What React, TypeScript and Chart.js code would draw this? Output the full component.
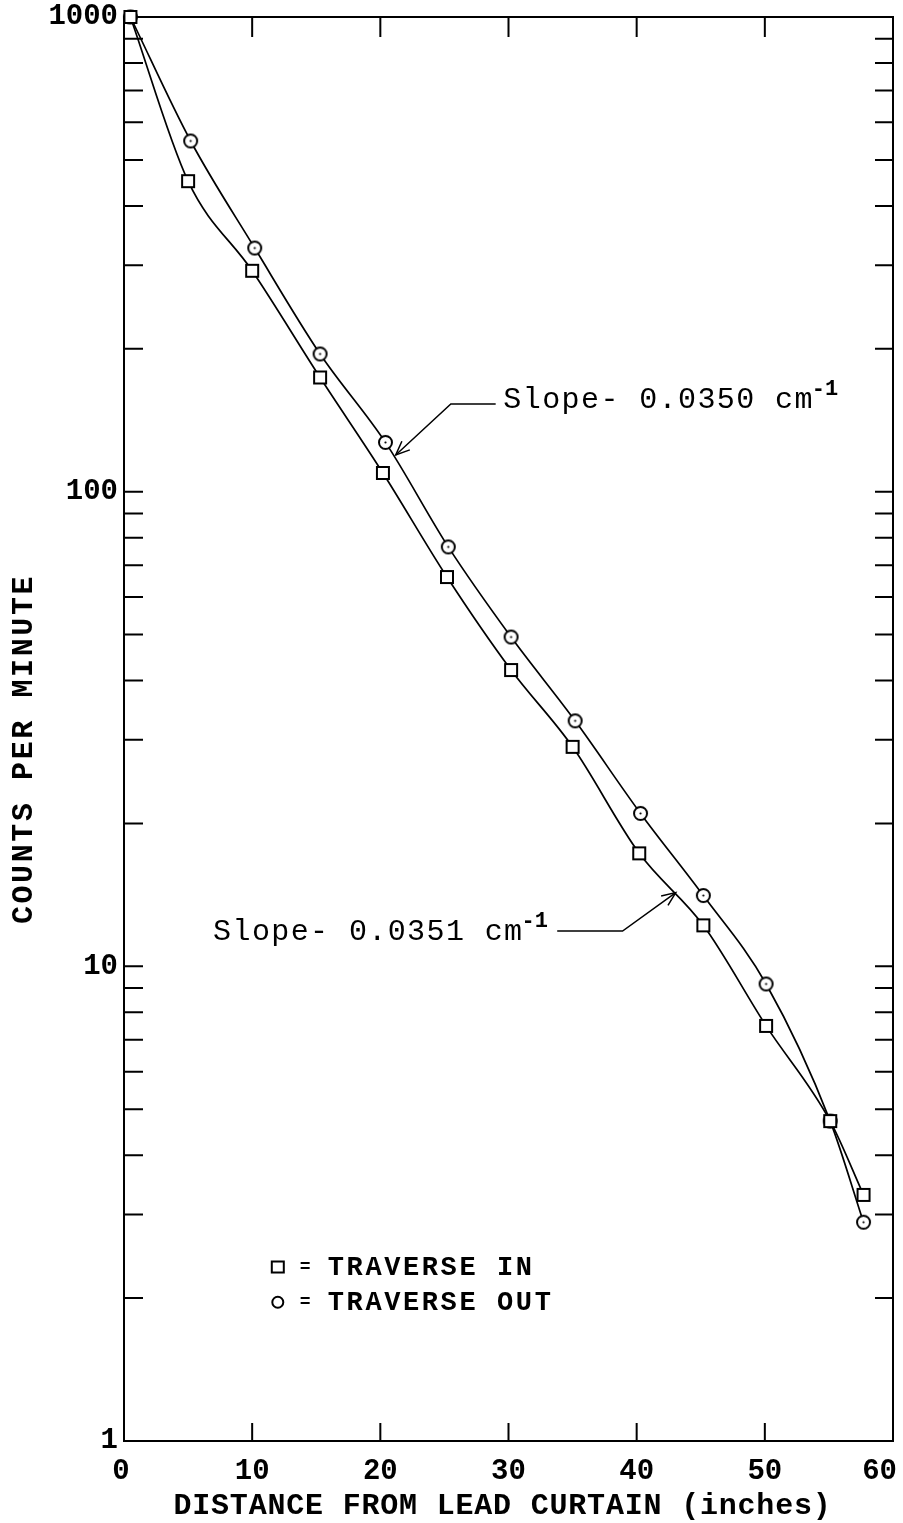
import React, { useEffect, useRef } from "react";
import { Chart, registerables } from "chart.js";
Chart.register(...registerables);

// Traverse In (squares)
const inX = [0.5, 5, 10, 15.3, 20.2, 25.2, 30.2, 35, 40.2, 45.2, 50.1, 55.1, 57.7];
const inY = [1000, 451, 292, 174, 109.5, 66.1, 42.1, 29.0, 17.3, 12.2, 7.49, 4.72, 3.3];
// Traverse Out (circles)
const outX = [0.5, 5.2, 10.2, 15.3, 20.4, 25.3, 30.2, 35.2, 40.3, 45.2, 50.1, 55.1, 57.7];
const outY = [1000, 548, 326, 195, 127, 76.5, 49.4, 32.9, 21.0, 14.1, 9.18, 4.72, 2.89];

const xTickValues = [0, 10, 20, 30, 40, 50, 60];
const yLabelValues = [1, 10, 100, 1000];
const yDecades = [1, 10, 100];
const yMultipliers = [2, 3, 4, 5, 6, 7, 8, 9, 10];

const xTitle = "DISTANCE FROM LEAD CURTAIN (inches)";
const yTitle = "COUNTS PER MINUTE";
const legendLabels = ["TRAVERSE IN", "TRAVERSE OUT"];
const legendAnchor = { x: 12.0, y: 2.32, y2: 1.96 };

// annotation anchors (data units)
const ann1 = { text: "Slope- 0.0350 cm", tip: [21.2, 119.5], elbow: [25.5, 153], lineEnd: [29.0, 153], textAt: [29.6, 150] };
const ann2 = { text: "Slope- 0.0351 cm", tip: [43.05, 14.3], elbow: [38.9, 11.87], lineEnd: [33.8, 11.87], textAt: [6.95, 11.36] };

const FONT = "'Liberation Mono', 'DejaVu Sans Mono', monospace";

function makeSquare() {
  const c = document.createElement("canvas");
  c.width = 16; c.height = 16;
  const g = c.getContext("2d")!;
  g.fillStyle = "#fff"; g.fillRect(2, 2, 12, 12);
  g.strokeStyle = "#000"; g.lineWidth = 2; g.strokeRect(2, 2, 12, 12);
  return c;
}
function makeCircle() {
  const c = document.createElement("canvas");
  c.width = 17; c.height = 17;
  const g = c.getContext("2d")!;
  g.beginPath(); g.arc(8.5, 8.5, 6.5, 0, Math.PI * 2);
  g.fillStyle = "#fff"; g.fill();
  g.strokeStyle = "#000"; g.lineWidth = 2; g.stroke();
  g.beginPath(); g.arc(8.5, 8.5, 1.1, 0, Math.PI * 2); g.fillStyle = "#000"; g.fill();
  return c;
}

const zeroPad = (s: any) => { s.paddingLeft = 0; s.paddingRight = 0; s.paddingTop = 0; s.paddingBottom = 0; };

export default function App() {
  const ref = useRef<HTMLCanvasElement>(null);
  useEffect(() => {
    const sq = makeSquare();
    const ci = makeCircle();
    const framePlugin = {
      id: "frame",
      beforeDatasetsDraw(chart: any) {
        const { ctx, chartArea: a } = chart;
        const xs = chart.scales.x, ys = chart.scales.y;
        ctx.save();
        ctx.strokeStyle = "#000";
        ctx.lineWidth = 2;
        ctx.strokeRect(a.left, a.top, a.right - a.left, a.bottom - a.top);
        ctx.beginPath();
        for (const d of yDecades) {
          for (const m of yMultipliers) {
            const py = ys.getPixelForValue(d * m);
            if (py <= a.top + 1) continue;
            ctx.moveTo(a.left, py); ctx.lineTo(a.left + 19, py);
            ctx.moveTo(a.right, py); ctx.lineTo(a.right - 18, py);
          }
        }
        for (const v of xTickValues) {
          const px = xs.getPixelForValue(v);
          if (px <= a.left + 1 || px >= a.right - 1) continue;
          ctx.moveTo(px, a.bottom); ctx.lineTo(px, a.bottom - 18);
          ctx.moveTo(px, a.top); ctx.lineTo(px, a.top + 20);
        }
        ctx.stroke();
        // x tick labels
        ctx.fillStyle = "#000";
        ctx.font = `bold 29px ${FONT}`;
        ctx.textAlign = "center";
        ctx.textBaseline = "middle";
        for (const v of xTickValues) {
          const label = String(v);
          const w = ctx.measureText(label).width;
          let px = xs.getPixelForValue(v);
          px = Math.min(px, chart.width - w / 2 - 6);
          px = Math.max(px - (v === xs.min ? 3 : 0), w / 2);
          ctx.fillText(label, px, a.bottom + 31);
        }
        ctx.restore();
      },
      afterDraw(chart: any) {
        const { ctx, chartArea: a } = chart;
        const xs = chart.scales.x, ys = chart.scales.y;
        const P = (p: number[]) => [xs.getPixelForValue(p[0]), ys.getPixelForValue(p[1])];
        ctx.save();
        ctx.fillStyle = "#000";
        ctx.strokeStyle = "#000";
        // titles
        ctx.textAlign = "center";
        ctx.textBaseline = "middle";
        (ctx as any).letterSpacing = "0.8px";
        ctx.font = `bold 30px ${FONT}`;
        ctx.fillText(xTitle, (a.left + a.right) / 2 - 6, 1506);
        ctx.save();
        ctx.translate(24, 749);
        ctx.rotate(-Math.PI / 2);
        (ctx as any).letterSpacing = "2.6px";
        ctx.font = `bold 30px ${FONT}`;
        ctx.fillText(yTitle, 0, 0);
        ctx.restore();
        // annotations
        const drawAnn = (an: any) => {
          const [tx, ty] = P(an.tip);
          const [ex, ey] = P(an.elbow);
          const [lx, ly] = P(an.lineEnd);
          ctx.lineWidth = 1.5;
          ctx.beginPath();
          ctx.moveTo(tx, ty); ctx.lineTo(ex, ey); ctx.lineTo(lx, ly);
          ctx.stroke();
          const ang = Math.atan2(ey - ty, ex - tx);
          ctx.beginPath();
          ctx.moveTo(tx + 15 * Math.cos(ang + 0.4), ty + 15 * Math.sin(ang + 0.4));
          ctx.lineTo(tx, ty);
          ctx.lineTo(tx + 15 * Math.cos(ang - 0.4), ty + 15 * Math.sin(ang - 0.4));
          ctx.stroke();
          const [sx, sy] = P(an.textAt);
          ctx.textAlign = "left";
          ctx.textBaseline = "alphabetic";
          (ctx as any).letterSpacing = "1.4px";
          ctx.font = `30px ${FONT}`;
          ctx.fillText(an.text, sx, sy);
          const w = ctx.measureText(an.text).width;
          (ctx as any).letterSpacing = "0px";
          ctx.font = `bold 22px ${FONT}`;
          ctx.fillText("-1", sx + w - 2, sy - 13);
        };
        drawAnn(ann1);
        drawAnn(ann2);
        // legend
        const lx = xs.getPixelForValue(legendAnchor.x);
        const ly1 = ys.getPixelForValue(legendAnchor.y);
        const ly2 = ys.getPixelForValue(legendAnchor.y2);
        ctx.lineWidth = 2;
        ctx.strokeRect(lx - 6, ly1 - 6, 12, 11);
        ctx.beginPath(); ctx.arc(lx, ly2, 5.5, 0, Math.PI * 2); ctx.stroke();
        ctx.textAlign = "left";
        ctx.textBaseline = "middle";
        (ctx as any).letterSpacing = "0px";
        ctx.font = `bold 18px ${FONT}`;
        ctx.fillText("=", lx + 22, ly1);
        ctx.fillText("=", lx + 22, ly2);
        (ctx as any).letterSpacing = "2.6px";
        ctx.font = `bold 27px ${FONT}`;
        ctx.fillText(legendLabels[0], lx + 50, ly1 + 1);
        ctx.fillText(legendLabels[1], lx + 50, ly2 + 1);
        ctx.restore();
      },
    };

    const chart = new Chart(ref.current!, {
      type: "line",
      data: {
        datasets: [
          {
            label: legendLabels[0],
            data: inX.map((x, i) => ({ x, y: inY[i] })),
            borderColor: "#000",
            borderWidth: 1.7,
            cubicInterpolationMode: "monotone",
            pointStyle: sq as any,
            pointRadius: 7,
            clip: false as any,
          },
          {
            label: legendLabels[1],
            data: outX.map((x, i) => ({ x, y: outY[i] })),
            borderColor: "#000",
            borderWidth: 1.7,
            cubicInterpolationMode: "monotone",
            pointStyle: ci as any,
            pointRadius: 7,
            clip: false as any,
          },
        ],
      },
      options: {
        animation: false,
        responsive: true,
        maintainAspectRatio: false,
        layout: { autoPadding: false, padding: { top: 17, right: 10, left: 0, bottom: 0 } },
        plugins: { legend: { display: false }, tooltip: { enabled: false } },
        scales: {
          x: {
            type: "linear",
            min: 0,
            max: 60,
            grid: { display: false, drawTicks: false },
            border: { display: false },
            afterBuildTicks: (s: any) => { s.ticks = xTickValues.map((v) => ({ value: v })); },
            afterFit: (s: any) => { s.height = 82; zeroPad(s); },
            ticks: { display: false },
          },
          y: {
            type: "logarithmic",
            min: 1,
            max: 1000,
            grid: { display: false, drawTicks: false },
            border: { display: false },
            afterBuildTicks: (s: any) => { s.ticks = yLabelValues.map((v) => ({ value: v })); },
            afterFit: (s: any) => { s.width = 124; zeroPad(s); },
            ticks: {
              color: "#000",
              padding: 6,
              font: { family: FONT, size: 29, weight: "bold" },
              callback: (v: any) => String(v),
            },
          },
        },
      },
      plugins: [framePlugin],
    });
    return () => chart.destroy();
  }, []);
  return (
    <div style={{ position: "fixed", left: 0, top: 0, width: 903, height: 1523, background: "#fff" }}>
      <canvas ref={ref} />
    </div>
  );
}
